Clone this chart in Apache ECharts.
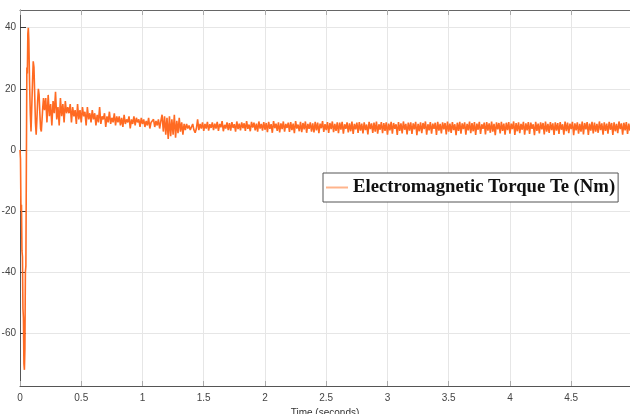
<!DOCTYPE html>
<html>
<head>
<meta charset="utf-8">
<script src="https://cdn.jsdelivr.net/npm/echarts@6/dist/echarts.min.js"></script>
<style>html,body{margin:0;padding:0;background:#fff}#c{width:630px;height:414px}</style>
</head>
<body>
<div id="c"></div>
<script>
// Start-up transient: sample times (s) and torque (Nm)
var transT = [0, 0.004, 0.008, 0.012, 0.016, 0.02, 0.024, 0.028, 0.032, 0.036, 0.04, 0.044, 0.048, 0.052, 0.056, 0.06, 0.064, 0.068, 0.072, 0.078, 0.084, 0.09, 0.096, 0.102, 0.108, 0.114, 0.12, 0.126, 0.132, 0.138, 0.144, 0.15, 0.156, 0.162, 0.168, 0.174, 0.18, 0.186, 0.192];
var transV = [0, -3, -20, -18, -33, -35, -52, -55, -70, -72, -65, -40, -38, -5, 27, 25, 38, 40, 36, 22, 12, 6, 14, 22, 29, 27, 18, 9, 5, 10, 16, 20, 18, 12, 7, 6, 10, 14, 17];
// Ripple part: sampled every 0.01 s from 0.20 s
var rippleStart = 0.2;
var rippleStep = 0.01;
var rippleV = [
13, 17, 9, 18, 11, 15, 8, 16, 12, 19, 10, 14, 8, 17, 11, 15, 9, 16, 12, 14,
12, 15, 9, 14, 11, 13, 8.5, 15, 10, 13, 9, 14, 11, 12.5, 8, 14, 10, 12, 9, 13,
10, 12, 8, 11.5, 9, 14, 8.5, 11, 10, 12, 7.5, 11, 9, 12.5, 8.5, 10.5, 9, 12, 8, 11,
9, 11, 8, 10.5, 7.5, 11.5, 8.5, 10, 9, 11, 7, 10, 8.5, 11, 8, 10.5, 9, 10, 7.5, 10.5,
8.5, 10, 7.5, 9.5, 8, 10.5, 7, 9, 8.5, 10, 7.5, 9.5, 8, 10, 7, 9.5, 11.5, 6, 11, 5,
10.5, 3.6, 11, 4.5, 10, 5, 11.5, 4, 9.5, 5.5, 10.5, 6, 9, 5, 8.5, 6.5, 8.5, 7, 8, 6.5,
7.5, 8.5, 6.5, 5.6, 7, 10, 6.5, 8.5, 7, 9, 6.2, 8.5, 7, 9.2, 6.3, 8.4, 7.2, 9, 6.5, 8.6,
7, 9.2, 6.2, 8.5, 7.4, 9.4, 6.1, 8.2, 7, 9, 6.5, 8.8, 6.3, 9.1, 7.2, 8.4, 6, 9.3, 6.8, 8.6,
6.4, 9, 7.1, 8.7, 6.2, 9.4, 6.9, 8.3, 6.1, 9.2, 7.3, 8.9, 6.4, 8.6, 6.0, 9.3, 7, 8.5, 6.3, 9.1,
6.6, 8.8, 5.8, 9.2, 6.9, 8.4, 5.6, 9.4, 7.1, 8.6, 6.2, 9.0, 5.7, 8.7, 6.8, 9.3, 6.0, 8.5, 7.2, 8.9,
5.9, 9.1, 6.5, 8.6, 5.5, 9.4, 7.0, 8.3, 6.1, 9.2, 5.8, 8.8, 6.7, 9.3, 5.6, 8.5, 6.9, 9.0, 6.0, 8.7,
5.7, 9.2, 6.4, 8.9, 5.5, 8.6, 7.1, 9.4, 5.9, 8.4, 6.5, 9.1, 5.6, 8.8, 6.8, 9.3, 5.8, 8.5, 6.2, 9.0,
5.5, 8.9, 6.6, 9.2, 5.3, 8.4, 6.9, 9.0, 5.7, 8.7, 6.1, 9.3, 5.2, 8.5, 6.7, 8.9, 5.6, 9.1, 6.3, 8.6,
5.4, 9.0, 6.5, 8.3, 5.1, 9.2, 6.8, 8.7, 5.6, 8.9, 6.0, 9.3, 5.3, 8.4, 6.6, 9.1, 5.5, 8.8, 6.2, 9.0,
5.0, 8.6, 6.4, 9.2, 5.3, 8.8, 6.9, 8.4, 4.9, 9.1, 6.2, 8.7, 5.4, 9.3, 6.6, 8.5, 5.1, 8.9, 6.3, 9.0,
5.2, 8.7, 6.7, 9.2, 4.8, 8.5, 6.1, 9.0, 5.5, 8.8, 6.8, 9.3, 5.0, 8.4, 6.4, 9.1, 5.3, 8.6, 6.9, 8.9,
4.9, 9.2, 6.3, 8.5, 5.4, 9.0, 6.7, 8.8, 5.1, 9.3, 6.0, 8.6, 5.6, 9.1, 6.5, 8.4, 4.8, 8.9, 6.2, 9.2,
5.3, 8.7, 6.8, 9.0, 5.0, 8.5, 6.4, 9.3, 5.5, 8.8, 6.1, 9.1, 4.9, 8.6, 6.6, 9.2, 5.2, 8.4, 6.9, 8.9,
5.1, 9.1, 6.3, 8.7, 5.6, 9.3, 6.0, 8.5, 4.8, 9.0, 6.7, 8.8, 5.4, 9.2, 6.2, 8.6, 5.0, 8.9, 6.5, 9.1,
5.3, 8.6, 6.8, 9.3, 4.9, 8.8, 6.1, 9.0, 5.5, 8.5, 6.6, 9.2, 5.0, 8.7, 6.4, 9.1, 5.2, 8.9, 6.9, 8.4,
4.8, 9.2, 6.2, 8.6, 5.4, 9.0, 6.7, 8.8, 5.1, 9.3, 6.0, 8.5, 5.6, 9.1, 6.5, 8.7, 4.9, 9.0, 6.3, 8.8,
5.2, 9.1, 6.6, 8.4, 5.0, 9.3, 6.1, 8.9, 5.5, 8.6, 6.8, 9.2, 4.8, 8.7, 6.4, 9.0, 5.3, 8.5, 6.0, 9.3,
5.1, 8.8, 6.7, 9.1, 4.9, 8.6, 6.3, 9.2, 5.4, 8.9, 6.0, 8.5, 5.6, 9.3, 6.5, 8.7, 5.0, 9.0, 6.2, 8.6,
5.3, 9.2, 6.6, 8.8, 4.9, 9.0, 6.1, 8.5, 5.5, 9.3, 6.8, 8.7, 5.0, 8.9, 6.4, 9.1, 5.2, 8.6, 6.3, 9.0
];
var seriesName = 'Electromagnetic Torque Te (Nm)';
var xTicks = [0, 0.5, 1, 1.5, 2, 2.5, 3, 3.5, 4, 4.5];
var yTicks = [-60, -40, -20, 0, 20, 40];

var data = [];
for (var i = 0; i < transT.length; i++) data.push([transT[i], transV[i]]);
for (var j = 0; j < rippleV.length; j++) data.push([+(rippleStart + j * rippleStep).toFixed(3), rippleV[j]]);

var chart = echarts.init(document.getElementById('c'), null, {renderer: 'canvas'});
var sans = 'Liberation Sans, Arial, sans-serif';
chart.setOption({
  animation: false,
  backgroundColor: '#ffffff',
  grid: {left: 20, top: 10, right: 0, bottom: 28, containLabel: false, outerBoundsMode: 'none'},
  legend: {
    left: 323, top: 173,
    padding: [5, 3, 5, 3],
    itemGap: 0,
    itemWidth: 22, itemHeight: 2,
    icon: 'rect',
    borderColor: '#555', borderWidth: 1,
    backgroundColor: '#fff',
    data: [{name: seriesName, itemStyle: {color: '#ffb48c'}}],
    textStyle: {fontFamily: 'Liberation Serif, Times New Roman, serif', fontWeight: 'bold', fontSize: 18.7, color: '#111'}
  },
  xAxis: [{
    type: 'value', min: 0, max: 4.98, position: 'bottom',
    axisLine: {show: true, onZero: false, lineStyle: {color: '#555', width: 1}},
    axisTick: {show: true, inside: true, length: 5, lineStyle: {color: '#aaa'}, customValues: xTicks},
    axisLabel: {color: '#444', fontSize: 10, fontFamily: sans, margin: 7, customValues: xTicks},
    splitLine: {show: true, lineStyle: {color: '#e6e6e6', width: 1}},
    name: 'Time (seconds)', nameLocation: 'middle', nameGap: 19,
    nameTextStyle: {color: '#333', fontSize: 10, fontFamily: sans}
  }, {
    type: 'value', min: 0, max: 4.98, position: 'top',
    axisLine: {show: true, onZero: false, lineStyle: {color: '#666', width: 1}},
    axisTick: {show: true, inside: true, length: 5, lineStyle: {color: '#aaa'}, customValues: xTicks},
    axisLabel: {show: false}, splitLine: {show: false}
  }],
  yAxis: {
    type: 'value', min: -77.3, max: 45.8,
    axisLine: {show: true, lineStyle: {color: '#555', width: 1}},
    axisTick: {show: true, inside: true, length: 6, lineStyle: {color: '#333'}, customValues: yTicks},
    axisLabel: {color: '#444', fontSize: 10, fontFamily: sans, margin: 4, customValues: yTicks},
    splitLine: {show: true, lineStyle: {color: '#e6e6e6', width: 1}}
  },
  series: [{
    name: seriesName, type: 'line', xAxisIndex: 0, data: data,
    showSymbol: false, symbol: 'none', sampling: null,
    lineStyle: {color: '#ff6a22', width: 1.6},
    itemStyle: {color: '#ff6a22'}
  }]
});
</script>
</body>
</html>
